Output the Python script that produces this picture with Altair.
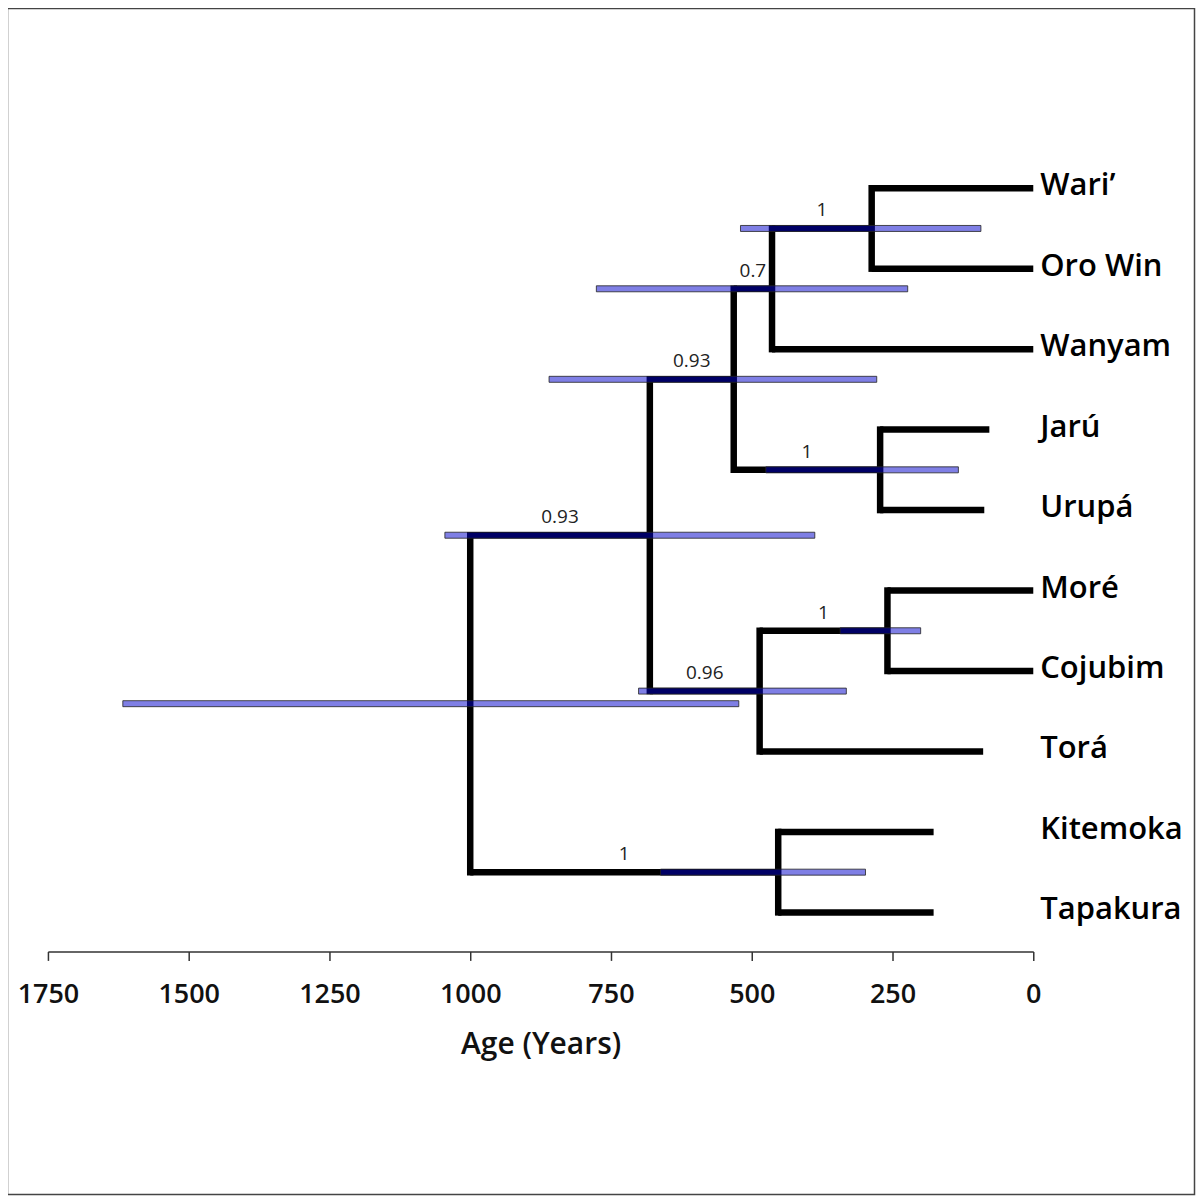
import altair as alt
import pandas as pd

# ---------------- data ----------------
leaves = ["Wari\u2019", "Oro Win", "Wanyam", "Jarú", "Urupá",
          "Moré", "Cojubim", "Torá", "Kitemoka", "Tapakura"]
leaf_age = [0, 0, 0, 78, 87, 0, 0, 89, 177, 177]
leaf_parent = ["WO", "WO", "WOWy", "JU", "JU", "MC", "MC", "MCT", "KT", "KT"]

nodes = ["WO", "WOWy", "JU", "A", "MC", "MCT", "B", "KT", "root"]
node_age = [287, 464, 272, 532, 259, 486, 681, 453, 1000]
node_parent = ["WOWy", "A", "A", "B", "MCT", "B", "root", "root", ""]
node_posterior = ["1", "0.7", "1", "0.93", "1", "0.96", "0.93", "1", ""]
hpd_low = [93, 223, 133, 278, 200, 332, 388, 298, 523]
hpd_high = [520, 776, 475, 860, 343, 701, 1045, 662, 1617]

tick_values = [0, 250, 500, 750, 1000, 1250, 1500, 1750]

# ---------------- tree layout ----------------
age, ypos, parent, children = {}, {}, {}, {}
for i, (n, a, p) in enumerate(zip(leaves, leaf_age, leaf_parent)):
    age[n] = a
    ypos[n] = i
    parent[n] = p
    children.setdefault(p, []).append(n)
for n, a, p in zip(nodes, node_age, node_parent):
    age[n] = a
    parent[n] = p
    if p:
        children.setdefault(p, []).append(n)


def y_of(n):
    if n in ypos:
        return ypos[n]
    ys = [y_of(c) for c in children[n]]
    ypos[n] = (min(ys) + max(ys)) / 2
    return ypos[n]


for n in nodes:
    y_of(n)

hrows = [{"a1": age[parent[n]], "a2": age[n], "y": ypos[n]}
         for n in leaves + nodes if parent[n]]
vrows = []
for n in nodes:
    ys = [ypos[c] for c in children[n]]
    vrows.append({"a": age[n], "y1": min(ys), "y2": max(ys)})
brows = []
for n, lo, hi, post in zip(nodes, hpd_low, hpd_high, node_posterior):
    mid = (age[n] + age[parent[n]]) / 2 if parent[n] else age[n]
    brows.append({"lo": lo, "hi": hi, "y": ypos[n], "post": post, "mid": mid})
lrows = [{"name": n, "y": ypos[n]} for n in leaves]

hdf = pd.DataFrame(hrows)
vdf = pd.DataFrame(vrows)
bdf = pd.DataFrame(brows)
ldf = pd.DataFrame(lrows)
pdf = bdf[bdf["post"] != ""]

# ---------------- scales / axes ----------------
xs = alt.Scale(domain=[0, 1750], reverse=True, nice=False, zero=False)
ys = alt.Scale(domain=[-1.669, 9.423], reverse=True, nice=False, zero=False)
xaxis = alt.Axis(values=tick_values, title="Age (Years)", format="d",
                 grid=False, labelFlush=False, labelOverlap=False,
                 domainColor="#333", domainWidth=1.5,
                 tickColor="#333", tickWidth=1.5, tickSize=9,
                 labelFont="Open Sans", labelFontSize=27, labelFontWeight=600,
                 labelColor="#111", labelPadding=21,
                 titleFont="Open Sans", titleFontSize=30, titleFontWeight=600,
                 titleColor="#111", titlePadding=22)

X = lambda f: alt.X(f, type="quantitative", scale=xs, axis=xaxis)
Y = lambda f: alt.Y(f, type="quantitative", scale=ys, axis=None)

horiz = alt.Chart(hdf).mark_rule(strokeWidth=6.5, color="black", strokeCap="butt").encode(
    x=X("a1"), x2="a2", y=Y("y"))
vert = alt.Chart(vdf).mark_rule(strokeWidth=6.5, color="black", strokeCap="square").encode(
    x=X("a"), y=Y("y1"), y2="y2")
bars = alt.Chart(bdf).mark_bar(size=6, fill="#0000cc", fillOpacity=0.5,
                               stroke="#222", strokeWidth=1, strokeOpacity=0.8).encode(
    x=X("lo"), x2="hi", y=Y("y"))
posts = alt.Chart(pdf).mark_text(font="Open Sans", fontSize=19, color="#222",
                                 baseline="bottom", align="center", dy=-8).encode(
    x=X("mid"), y=Y("y"), text="post:N")
tips = alt.Chart(ldf).mark_text(font="Open Sans", fontSize=31, fontWeight=600,
                                color="#000", align="left", baseline="middle", dx=7, dy=-2).encode(
    x=alt.datum(0, scale=xs), y=Y("y"), text="name:N")
frame = alt.Chart(pd.DataFrame({"k": [0]})).mark_rect(
    fillOpacity=0, stroke="#444", strokeWidth=1.5).encode(
    x=alt.value(-40.5), x2=alt.value(1148.5), y=alt.value(-40.5), y2=alt.value(1147.5))

chart = alt.layer(horiz, vert, bars, posts, tips, frame).properties(
    width=987, height=904,
    padding={"left": 40, "top": 40, "right": 163, "bottom": 245},
    autosize=alt.AutoSizeParams(type="none"),
    background="white",
).configure_view(stroke=None)

chart.save("out.html", embed_options={"renderer": "svg", "actions": False})
